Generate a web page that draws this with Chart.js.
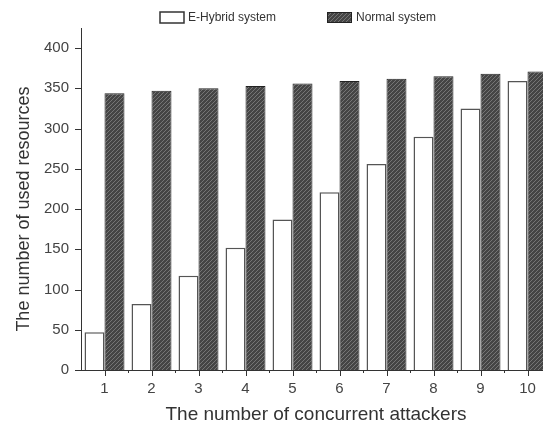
<!DOCTYPE html>
<html>
<head>
<meta charset="utf-8">
<script src="https://cdn.jsdelivr.net/npm/chart.js@4.4.0/dist/chart.umd.min.js"></script>
<style>
  html, body { margin: 0; padding: 0; background: #fff; overflow: hidden; }
  #wrap { width: 560px; height: 427px; }
</style>
</head>
<body>
<div id="wrap"><canvas id="chart" width="560" height="427"></canvas></div>
<script>
// valores
const categorias = ["1", "2", "3", "4", "5", "6", "7", "8", "9", "10"];
const eHybrid = [47, 82, 117, 152, 187, 221, 256, 290, 325, 359];
const normal = [344, 347, 350, 353, 356, 359, 362, 365, 368, 371];
const nombresSeries = ["E-Hybrid system", "Normal system"];
const tituloY = "The number of used resources";
const yMax = 425;
const yPaso = 25;

const fuente = "'Liberation Sans', Arial, sans-serif";

// trama rayada para las barras oscuras
function crearTrama() {
    const c = document.createElement("canvas");
    c.width = 4; c.height = 4;
    const g = c.getContext("2d");
    g.fillStyle = "#454545";
    g.fillRect(0, 0, 4, 4);
    g.strokeStyle = "#767676";
    g.lineWidth = 1;
    g.beginPath();
    g.moveTo(0, 4); g.lineTo(4, 0);
    g.moveTo(-1, 1); g.lineTo(1, -1);
    g.moveTo(3, 5); g.lineTo(5, 3);
    g.stroke();
    return g.createPattern(c, "repeat");
}

const ctx = document.getElementById("chart").getContext("2d");
const trama = crearTrama();

// marcas mayores y menores de los ejes, titulo Y y leyenda
const marcasPlugin = {
    id: "marcas",
    afterDraw(chart) {
        const c = chart.ctx;
        const x = chart.scales.x;
        const y = chart.scales.y;
        c.save();
        c.strokeStyle = "#333";
        c.lineWidth = 1;
        c.beginPath();
        y.ticks.forEach(t => {
            const py = Math.round(y.getPixelForValue(t.value)) + 0.5;
            const len = t.value % 50 === 0 ? 6 : 3;
            c.moveTo(y.right - len, py);
            c.lineTo(y.right, py);
        });
        for (let i = 0; i < categorias.length; i++) {
            const px = Math.round(x.getPixelForTick(i)) + 0.5;
            c.moveTo(px, x.top);
            c.lineTo(px, x.top + 6);
            if (i > 0) {
                const pb = Math.round((x.getPixelForTick(i - 1) + x.getPixelForTick(i)) / 2) + 0.5;
                c.moveTo(pb, x.top);
                c.lineTo(pb, x.top + 3);
            }
        }
        c.stroke();

        // titulo del eje Y, centrado sobre el tramo 0-400 como en la figura
        c.save();
        c.translate(24, (y.getPixelForValue(0) + y.getPixelForValue(400)) / 2);
        c.rotate(-Math.PI / 2);
        c.font = "18px " + fuente;
        c.fillStyle = "#333";
        c.textAlign = "center";
        c.textBaseline = "middle";
        c.fillText(tituloY, 0, 0);
        c.restore();

        // leyenda
        c.font = "12px " + fuente;
        c.textBaseline = "middle";
        c.lineWidth = 1.5;
        c.strokeStyle = "#333";
        c.fillStyle = "#fff";
        c.fillRect(160, 12, 24, 11);
        c.strokeRect(160, 12, 24, 11);
        c.fillStyle = trama;
        c.fillRect(327, 12, 25, 11);
        c.lineWidth = 1;
        c.strokeStyle = "#222";
        c.strokeRect(327.5, 12.5, 24, 10);
        c.fillStyle = "#333";
        c.fillText(nombresSeries[0], 188, 18);
        c.fillText(nombresSeries[1], 356, 18);
        c.restore();
    }
};

new Chart(ctx, {
    type: "bar",
    data: {
        labels: categorias,
        datasets: [
            {
                label: nombresSeries[0],
                data: eHybrid,
                backgroundColor: "#ffffff",
                borderColor: "#555",
                borderWidth: 1.5,
                barPercentage: 1.0,
                categoryPercentage: 0.85
            },
            {
                label: nombresSeries[1],
                data: normal,
                backgroundColor: trama,
                borderColor: "#222",
                borderWidth: 1,
                barPercentage: 1.0,
                categoryPercentage: 0.85
            }
        ]
    },
    options: {
        responsive: false,
        animation: false,
        layout: { padding: { left: 4, right: 9, top: 28, bottom: 0 } },
        plugins: {
            legend: { display: false },
            tooltip: { enabled: false }
        },
        scales: {
            x: {
                grid: { display: false, drawTicks: false },
                border: { display: true, color: "#333", width: 1 },
                ticks: {
                    color: "#444",
                    padding: 10,
                    font: { family: fuente, size: 15 }
                },
                title: {
                    display: true,
                    text: "The number of concurrent attackers",
                    color: "#333",
                    padding: { top: 0, bottom: 1 },
                    font: { family: fuente, size: 19 }
                },
                afterFit(scale) { scale.height = 57; }
            },
            y: {
                min: 0,
                max: yMax,
                grid: { display: false, drawTicks: false },
                border: { display: true, color: "#333", width: 1 },
                ticks: {
                    stepSize: yPaso,
                    color: "#444",
                    padding: 12,
                    font: { family: fuente, size: 15 },
                    callback: v => (v % 50 === 0 ? v : "")
                },
                title: { display: false },
                afterFit(scale) { scale.width = 77; }
            }
        }
    },
    plugins: [marcasPlugin]
});
</script>
</body>
</html>
